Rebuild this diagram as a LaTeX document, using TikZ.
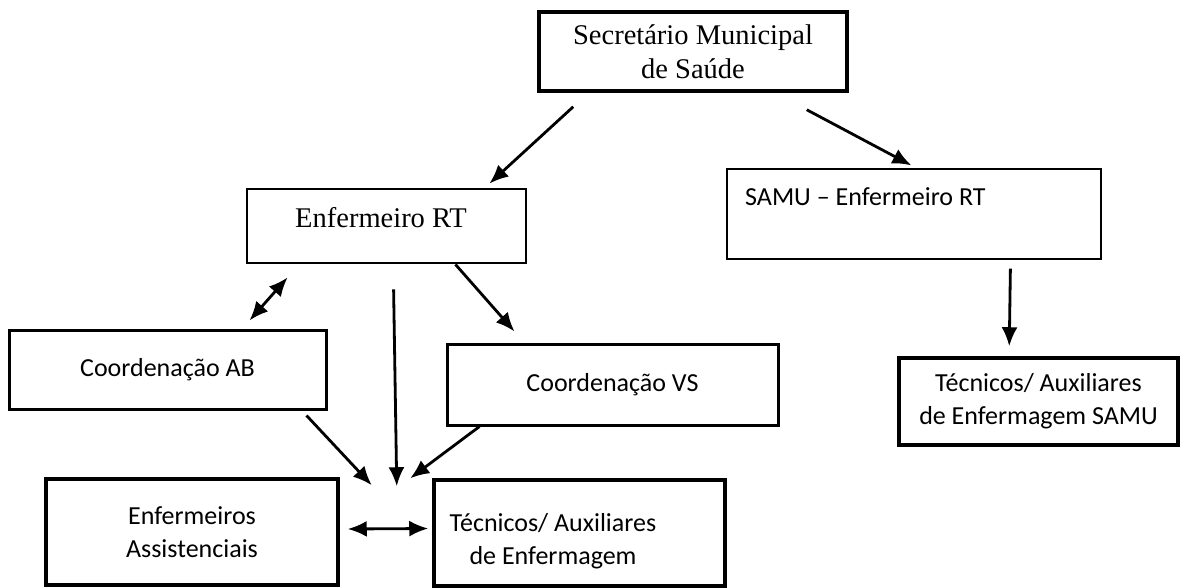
\documentclass[tikz,border=0pt]{standalone}
\usepackage{fontspec}
\setmainfont{Liberation Serif}
\newfontfamily\calib{Carlito}
\usetikzlibrary{arrows.meta}
\begin{document}
\begin{tikzpicture}[x=1pt,y=-1pt,
  box/.style={draw, rectangle, inner sep=0pt, align=center},
  serifbig/.style={font=\fontsize{28.5}{34}\selectfont},
  cal/.style={font=\calib\fontsize{26}{33}\selectfont},
  arr/.style={line width=2.8pt, -{Latex[length=19pt,width=16pt]}},
  darr/.style={line width=2.8pt, {Latex[length=19pt,width=16pt]}-{Latex[length=19pt,width=16pt]}}]
\useasboundingbox (0,0) rectangle (1182,587);
% boxes
\node[box, serifbig, line width=3.5pt, minimum width=308pt, minimum height=79pt] (sec) at (693,51.5) {Secretário Municipal\\de Saúde};
\node[box, line width=2.8pt, minimum width=279pt, minimum height=74pt] (ert) at (386.5,226) {};
\node[box, line width=1.2pt, minimum width=374pt, minimum height=90pt] (samu) at (914,214) {};
\node[box, cal, line width=3pt, minimum width=317pt, minimum height=79pt] (cab) at (167.5,369.5) {Coordenação AB};
\node[box, cal, line width=3pt, minimum width=331pt, minimum height=81pt] (vs) at (612.5,384.5) {Coordenação VS};
\node[box, cal, line width=3.5pt, minimum width=292pt, minimum height=106pt] (enf) at (192,532) {Enfermeiros\\Assistenciais};
\node[box, line width=3.5pt, minimum width=291pt, minimum height=106pt] (tec) at (579.5,533) {};
\node[box, cal, line width=3.5pt, minimum width=279pt, minimum height=87pt] (tsamu) at (1038.5,401.5) {Técnicos/ Auxiliares\\de Enfermagem SAMU};
% texts placed off-centre in their boxes
\node[serifbig, anchor=base, inner sep=0pt] (ertt) at (381,227) {Enfermeiro RT};
\node[cal, anchor=base west, inner sep=0pt] (samut) at (745,205) {SAMU – Enfermeiro RT};
\node[cal, align=center, inner sep=0pt] (tect) at (553,541) {Técnicos/ Auxiliares\\de Enfermagem};
% connectors
\draw[arr] ([shift={(36,14)}]sec.south west) -- ([shift={(-38,-4)}]ert.north east);
\draw[arr] ([shift={(-42,17)}]sec.south east) -- ([shift={(185,-3)}]samu.north west);
\draw[darr] ([shift={(42,13)}]ert.south west) -- ([shift={(-78,-8)}]cab.north east);
\draw[arr] ([shift={(148,25)}]ert.south west) -- ([shift={(57,9)}]enf.north east);
\draw[arr] ([shift={(-72,0)}]ert.south east) -- ([shift={(69,-11)}]vs.north west);
\draw[arr] ([shift={(-21,5)}]cab.south east) -- ([shift={(32,8)}]enf.north east);
\draw[arr] ([shift={(34,0)}]vs.south west) -- ([shift={(-22,0)}]tec.north west);
\draw[darr] ([shift={(8,-3)}]enf.east) -- ([shift={(-4,-4.5)}]tec.west);
\draw[arr] ([shift={(284,9)}]samu.south west) -- ([shift={(112,-10)}]tsamu.north west);
\end{tikzpicture}
\end{document}
